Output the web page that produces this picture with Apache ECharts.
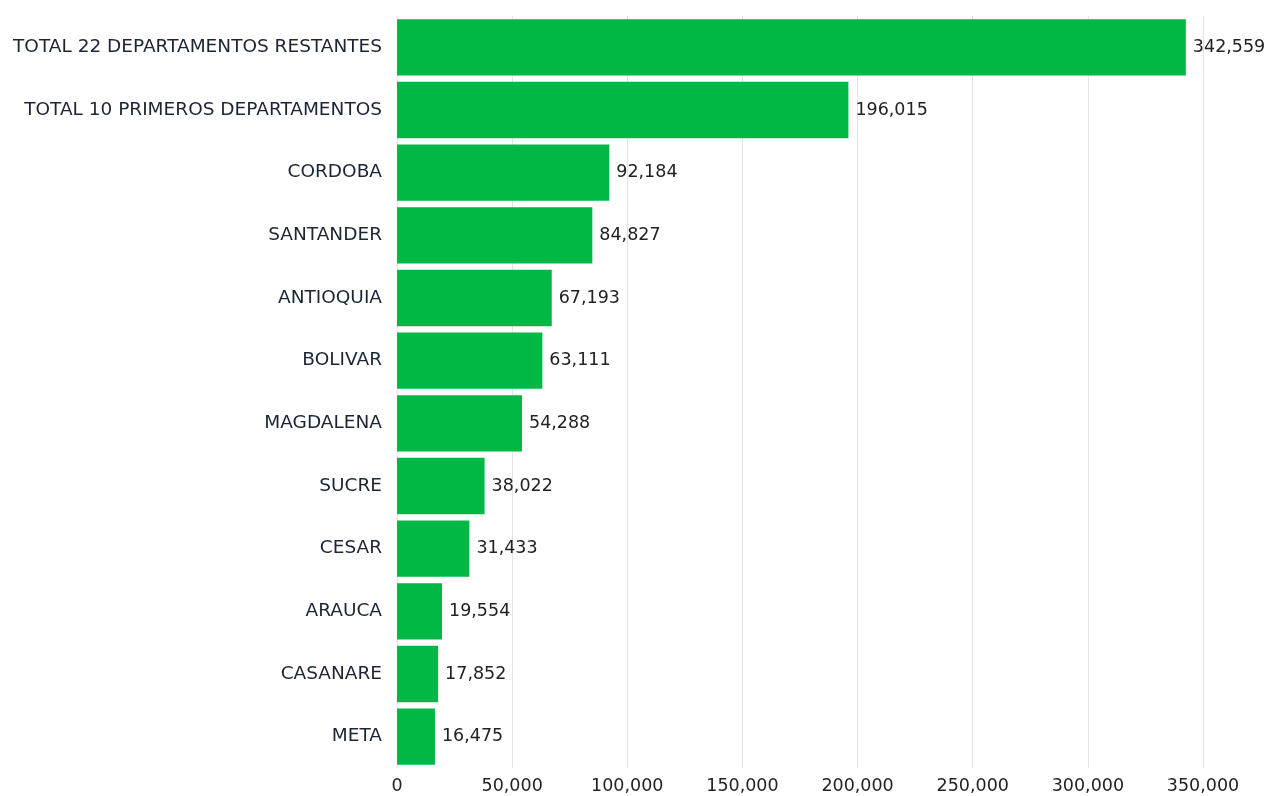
<!DOCTYPE html>
<html>
<head>
<meta charset="utf-8">
<script src="https://cdn.jsdelivr.net/npm/echarts@6/dist/echarts.min.js"></script>
<style>
  html, body { margin: 0; padding: 0; background: #fff; }
  #chart { width: 1278px; height: 796px; }
</style>
</head>
<body>
<div id="chart"></div>
<script>
// categories from top to bottom
var departamentos = [
  'TOTAL 22 DEPARTAMENTOS RESTANTES',
  'TOTAL 10 PRIMEROS DEPARTAMENTOS',
  'CORDOBA',
  'SANTANDER',
  'ANTIOQUIA',
  'BOLIVAR',
  'MAGDALENA',
  'SUCRE',
  'CESAR',
  'ARAUCA',
  'CASANARE',
  'META'
]
var valores = [342559, 196015, 92184, 84827, 67193, 63111, 54288, 38022, 31433, 19554, 17852, 16475]
var xTicks = { min: 0, max: 350000, interval: 50000 }

var chart = echarts.init(document.getElementById('chart'))

var fmt = function (v) {
  return Number(v).toLocaleString('en-US')
}

var option = {
  animation: false,
  textStyle: { fontFamily: '"DejaVu Sans", sans-serif' },
  grid: {
    left: 397,
    right: 75,
    top: 16,
    bottom: 28
  },
  xAxis: {
    type: 'value',
    min: xTicks.min,
    max: xTicks.max,
    interval: xTicks.interval,
    axisLine: { show: false },
    axisTick: { show: false },
    axisLabel: {
      color: '#222',
      fontSize: 17.5,
      margin: 9,
      formatter: fmt
    },
    splitLine: { lineStyle: { color: '#e3e3e3', width: 1 } }
  },
  yAxis: {
    type: 'category',
    inverse: true,
    data: departamentos,
    axisLine: { show: false },
    axisTick: { show: false },
    axisLabel: {
      color: '#1c2533',
      fontSize: 18.5,
      margin: 15
    }
  },
  series: [{
    type: 'bar',
    data: valores,
    barCategoryGap: '10%',
    itemStyle: { color: '#00B843' },
    label: {
      show: true,
      position: 'right',
      distance: 7,
      color: '#222',
      fontSize: 17.5,
      formatter: function (p) { return fmt(p.value) }
    }
  }]
}

chart.setOption(option)
</script>
</body>
</html>
